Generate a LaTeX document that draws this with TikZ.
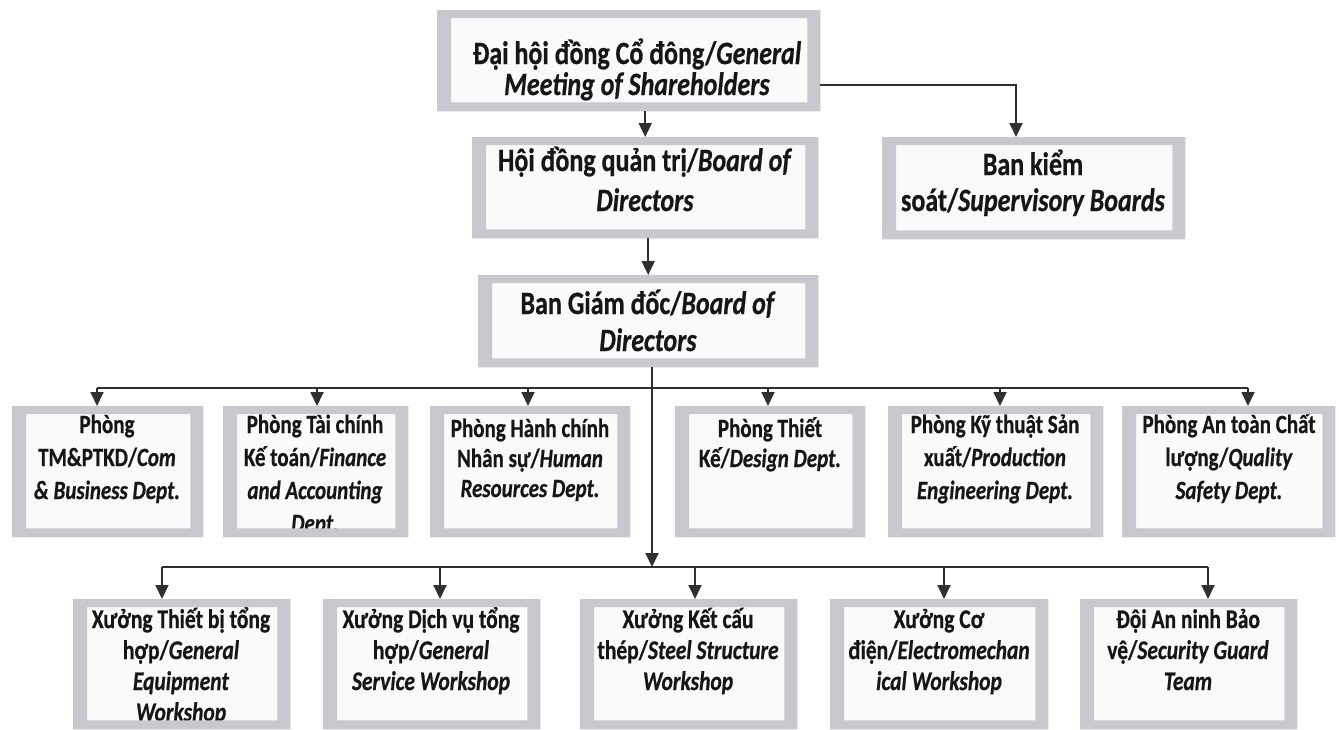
\documentclass[tikz,border=0pt]{standalone}
\usepackage{fontspec}
\setmainfont{Carlito}[BoldFeatures={FakeBold=0.7},BoldItalicFeatures={FakeBold=0.7}]
\usetikzlibrary{arrows.meta}
\definecolor{boxgray}{RGB}{200,200,206}
\definecolor{innerw}{RGB}{250,250,250}
\definecolor{ink}{RGB}{22,22,22}
\definecolor{wire}{RGB}{48,48,48}
\newcommand\tx[3]{\scalebox{1}[1.25]{\parbox[t]{440pt}{\centering\fontsize{#1pt}{#2pt}\selectfont\bfseries #3}}}
\tikzset{
  boxnode/.style={rectangle, fill=innerw, draw=none, inner sep=0pt, anchor=north west},
  txtnode/.style={inner sep=0pt, anchor=base, text=ink},
  conn/.style={draw=wire, line width=1.8pt},
  arr/.style={conn, -{Triangle[width=13pt,length=14pt]}},
}
\begin{document}
\begin{tikzpicture}[x=1pt,y=-1pt]
\fill[white] (0,0) rectangle (1339,729);
\useasboundingbox (0,0) rectangle (1339,729);

% boxes
\node[boxnode, minimum width=383pt, minimum height=101pt] (gms) at (437,10) {};
\node[boxnode, minimum width=346pt, minimum height=101pt] (hdqt) at (472,137) {};
\node[boxnode, minimum width=303pt, minimum height=102pt] (bks) at (882,137) {};
\node[boxnode, minimum width=340pt, minimum height=92pt] (bgd) at (478,275) {};
\node[boxnode, minimum width=191pt, minimum height=131pt] (p1) at (12,406) {};
\node[boxnode, minimum width=185pt, minimum height=131pt] (p2) at (223,406) {};
\node[boxnode, minimum width=200pt, minimum height=131pt] (p3) at (430,406) {};
\node[boxnode, minimum width=190pt, minimum height=131pt] (p4) at (675,406) {};
\node[boxnode, minimum width=215pt, minimum height=131pt] (p5) at (888,406) {};
\node[boxnode, minimum width=213pt, minimum height=131pt] (p6) at (1122,406) {};
\node[boxnode, minimum width=217pt, minimum height=130pt] (w1) at (73,599) {};
\node[boxnode, minimum width=217pt, minimum height=130pt] (w2) at (323,599) {};
\node[boxnode, minimum width=217pt, minimum height=130pt] (w3) at (580,599) {};
\node[boxnode, minimum width=218pt, minimum height=130pt] (w4) at (830,599) {};
\node[boxnode, minimum width=217pt, minimum height=130pt] (w5) at (1080,599) {};

% texts
\node[txtnode] (gmsT) at (637,64) {\tx{26}{24.8}{Đại hội đồng Cổ đông/\textit{General}\\\textit{Meeting of Shareholders}}};
\node[txtnode] (hdqtT) at (645,171) {\tx{26}{32}{Hội đồng quản trị/\textit{Board of}\\\textit{Directors}}};
\node[txtnode] (bksT) at (1033,175) {\tx{26}{28.8}{Ban kiểm\\soát/\textit{Supervisory Boards}}};
\node[txtnode] (bgdT) at (648,314) {\tx{26}{29.6}{Ban Giám đốc/\textit{Board of}\\\textit{Directors}}};

\node[txtnode] (p1T) at (107,433) {\tx{21}{26.4}{Phòng\\TM\&PTKD/\textit{Com}\\\textit{\& Business Dept.}}};
\node[txtnode] (p2T) at (315,433) {\tx{21}{26.4}{Phòng Tài chính\\Kế toán/\textit{Finance}\\\textit{and Accounting}\\\textit{Dept.}}};
\node[txtnode] (p3T) at (530,437) {\tx{21}{24}{Phòng Hành chính\\Nhân sự/\textit{Human}\\\textit{Resources Dept.}}};
\node[txtnode] (p4T) at (770,437) {\tx{21}{24}{Phòng Thiết\\Kế/\textit{Design Dept.}}};
\node[txtnode] (p5T) at (995,433) {\tx{21}{26.4}{Phòng Kỹ thuật Sản\\xuất/\textit{Production}\\\textit{Engineering Dept.}}};
\node[txtnode] (p6T) at (1229,433) {\tx{21}{26.4}{Phòng An toàn Chất\\lượng/\textit{Quality}\\\textit{Safety Dept.}}};

\node[txtnode] (w1T) at (181,628) {\tx{21.5}{24.8}{Xưởng Thiết bị tổng\\hợp/\textit{General}\\\textit{Equipment}\\\textit{Workshop}}};
\node[txtnode] (w2T) at (431,628) {\tx{21.5}{24.8}{Xưởng Dịch vụ tổng\\hợp/\textit{General}\\\textit{Service Workshop}}};
\node[txtnode] (w3T) at (688,628) {\tx{21.5}{24.8}{Xưởng Kết cấu\\thép/\textit{Steel Structure}\\\textit{Workshop}}};
\node[txtnode] (w4T) at (939,628) {\tx{21.5}{24.8}{Xưởng Cơ\\điện/\textit{Electromechan}\\\textit{ical Workshop}}};
\node[txtnode] (w5T) at (1188,628) {\tx{21.5}{24.8}{Đội An ninh Bảo\\vệ/\textit{Security Guard}\\\textit{Team}}};

% frames drawn over the text
\foreach \n in {gms,hdqt,bks,bgd,p1,p2,p3,p4,p5,p6,w1,w2,w3,w4,w5}
  \fill[boxgray, even odd rule] (\n.north west) rectangle (\n.south east)
     ([xshift=14pt,yshift=-8pt]\n.north west) rectangle ([xshift=-13pt,yshift=9pt]\n.south east);

% connectors
\draw[arr] (hdqt.north |- gms.south) -- (hdqt.north);
\coordinate (gmsR) at (820,85);
\coordinate (bksA) at (1016,85);
\draw[arr] (gmsR) -- (bksA) -- (bksA |- bks.north);
\draw[arr] (bgd.north |- hdqt.south) -- (bgd.north);
\coordinate (bgdB) at (652,367);
\coordinate (j2) at (652,567);
\draw[arr] (bgdB) -- (j2);

\coordinate (tp1) at (97,388);
\coordinate (tp2) at (317,388);
\coordinate (tp3) at (528,388);
\coordinate (tp4) at (768,388);
\coordinate (tp5) at (1000,388);
\coordinate (tp6) at (1248,388);
\draw[conn] (tp1) -- (tp6);
\foreach \i in {1,...,6} \draw[arr] (tp\i) -- (tp\i |- p\i.north);

\coordinate (tw1) at (162,567);
\coordinate (tw2) at (440,567);
\coordinate (tw3) at (695,567);
\coordinate (tw4) at (944,567);
\coordinate (tw5) at (1208,567);
\draw[conn] (tw1) -- (tw5);
\foreach \i in {1,...,5} \draw[arr] (tw\i) -- (tw\i |- w\i.north);
\end{tikzpicture}
\end{document}
